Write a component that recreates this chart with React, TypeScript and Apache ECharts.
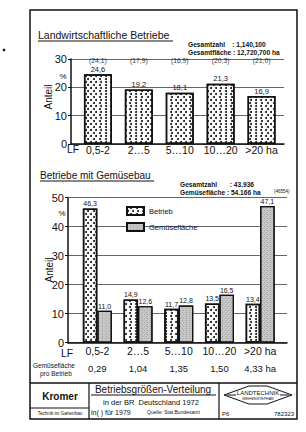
import React, { useEffect, useRef } from 'react';
import * as echarts from 'echarts';

// ---- data ----
const categories = ['0,5-2', '2…5', '5…10', '10…20', '>20 ha'];
const farmShare1972 = [24.6, 19.2, 18.1, 21.3, 16.9];
const farmShare1979 = [24.1, 17.9, 16.9, 20.3, 21.0];
const vegFarmShare = [46.3, 14.9, 11.7, 13.5, 13.4];
const vegAreaShare = [11.0, 12.6, 12.8, 16.5, 47.1];
const vegAreaPerFarm = ['0,29', '1,04', '1,35', '1,50', '4,33 ha'];
const legendNames = ['Betrieb', 'Gemüsefläche'];

const FONT = '"Liberation Sans", Arial, sans-serif';
const PAREN_LEVEL = 28.0; // vertical level (axis units) of the 1979 row
const fmt = (v: number) => v.toFixed(1).replace('.', ',');

const dotDecal = {
  symbol: 'circle',
  symbolSize: 1,
  color: '#111',
  dashArrayX: [[2, 3], [0, 2.5, 2, 0.5]],
  dashArrayY: [2, 1],
};
const greyDecal = {
  symbol: 'rect',
  symbolSize: 1,
  color: 'rgba(90,90,90,0.35)',
  dashArrayX: [[1, 1.5], [0, 1.25, 1, 0.25]],
  dashArrayY: [1, 1],
};

function txt(text: string, x: number, y: number, size: number, opts: any = {}) {
  return {
    type: 'text',
    x,
    y,
    rotation: opts.rotation || 0,
    silent: true,
    style: {
      text,
      fontSize: size,
      fontFamily: FONT,
      fontWeight: opts.weight || 'normal',
      fill: '#111',
      align: opts.align || 'left',
      verticalAlign: 'middle',
    },
  };
}
function ln(x1: number, y1: number, x2: number, y2: number, w = 1) {
  return { type: 'line', silent: true, shape: { x1, y1, x2, y2 }, style: { stroke: '#111', lineWidth: w } };
}

export default function App() {
  const ref = useRef<HTMLDivElement>(null);
  useEffect(() => {
    if (!ref.current) return;
    const chart = echarts.init(ref.current, null, { renderer: 'svg' });

    const valueAxisVisible = (gridIndex: number, max: number) => ({
      type: 'value',
      gridIndex,
      min: 0,
      max,
      interval: 10,
      axisLine: { show: true, lineStyle: { color: '#111', width: 1.5 } },
      axisTick: { show: true, length: 3, lineStyle: { color: '#111' } },
      axisLabel: { fontSize: 11, fontFamily: FONT, color: '#111', margin: 4 },
      splitLine: { show: true, lineStyle: { color: '#666', width: 1 } },
    });
    const valueAxisHidden = (gridIndex: number, max: number) => ({
      type: 'value',
      gridIndex,
      min: 0,
      max,
      interval: 10,
      show: false,
      splitLine: { show: false },
    });
    const baseAxis = (gridIndex: number) => ({
      type: 'category',
      gridIndex,
      data: categories,
      axisLine: { show: true, lineStyle: { color: '#111', width: 1.5 } },
      axisTick: { show: false },
      axisLabel: { show: false },
    });
    const labelAxis = (gridIndex: number, data: string[], margin: number, size: number, offset = 0) => ({
      type: 'category',
      gridIndex,
      data,
      position: 'bottom',
      offset,
      axisLine: { show: false },
      axisTick: { show: false },
      axisLabel: { fontSize: size, fontFamily: FONT, color: '#111', margin, interval: 0 },
    });

    const valueLabel = (size: number) => ({
      show: true,
      position: 'top',
      distance: 1,
      fontSize: size,
      lineHeight: size + 0.5,
      fontFamily: FONT,
      color: '#111',
      formatter: (p: any) => fmt(p.value),
    });

    const option: any = {
      animation: false,
      backgroundColor: '#fff',
      grid: [
        { left: 71, top: 59, width: 213, height: 85 },
        { left: 77.5, top: 59, width: 204.5, height: 85 },
        { left: 68, top: 197.7, width: 219, height: 145 },
        { left: 77, top: 197.7, width: 203.5, height: 145 },
      ],
      xAxis: [
        baseAxis(0),
        labelAxis(1, categories, 0, 10.5),
        baseAxis(2),
        labelAxis(3, categories, 3, 10.5),
        labelAxis(3, vegAreaPerFarm, 3, 9.5, 18),
      ],
      yAxis: [
        valueAxisVisible(0, 30),
        valueAxisHidden(1, 30),
        valueAxisVisible(2, 50),
        valueAxisHidden(3, 50),
      ],
      legend: {
        data: legendNames,
        orient: 'vertical',
        left: 121,
        top: 201,
        itemWidth: 17,
        itemHeight: 8,
        itemGap: 6,
        icon: 'rect',
        textStyle: { fontSize: 7.5, fontFamily: FONT, color: '#111' },
      },
      series: [
        {
          type: 'bar',
          name: 'Landwirtschaftliche Betriebe',
          xAxisIndex: 1,
          yAxisIndex: 1,
          data: farmShare1972,
          barWidth: 28,
          itemStyle: { color: '#fff', borderColor: '#111', borderWidth: 1.5, decal: dotDecal },
          label: valueLabel(7.5),
        },
        {
          type: 'scatter',
          name: '1979',
          xAxisIndex: 1,
          yAxisIndex: 1,
          symbolSize: 1,
          itemStyle: { color: 'rgba(0,0,0,0)' },
          data: farmShare1979.map((v, i) => [categories[i], PAREN_LEVEL, v]),
          label: {
            show: true,
            position: 'top',
            distance: 0,
            fontSize: 6.8,
            lineHeight: 7,
            fontFamily: FONT,
            color: '#000',
            formatter: (p: any) => '(' + fmt(p.value[2]) + ')',
          },
        },
        {
          type: 'bar',
          name: legendNames[0],
          xAxisIndex: 3,
          yAxisIndex: 3,
          data: vegFarmShare,
          barWidth: 14.5,
          barGap: '0%',
          itemStyle: { color: '#fff', borderColor: '#111', borderWidth: 1.5, decal: dotDecal },
          label: valueLabel(7),
        },
        {
          type: 'bar',
          name: legendNames[1],
          xAxisIndex: 3,
          yAxisIndex: 3,
          data: vegAreaShare,
          barWidth: 14.5,
          barGap: '0%',
          itemStyle: { color: '#c6c6c6', borderColor: '#111', borderWidth: 1.2, decal: greyDecal },
          label: valueLabel(7),
        },
      ],
      graphic: [
        // frame
        { type: 'rect', silent: true, shape: { x: 30, y: 10, width: 267, height: 409 }, style: { fill: 'none', stroke: '#111', lineWidth: 1.5 } },
        ln(30, 383, 297, 383, 1.5),
        ln(89, 383, 89, 419, 1.2),
        ln(219, 383, 219, 419, 1.2),
        ln(30, 408, 89, 408, 1),
        { type: 'circle', silent: true, shape: { cx: 4, cy: 50, r: 1.3 }, style: { fill: '#111' } },
        // top chart titles
        txt('Landwirtschaftliche Betriebe', 38, 35, 10.5),
        ln(38, 41, 173, 41, 1),
        txt('Gesamtzahl    : 1,140,100', 188, 44, 6.6, { weight: 'bold' }),
        txt('Gesamtfläche : 12,720,700 ha', 188, 52, 6.6, { weight: 'bold' }),
        txt('%', 63, 76, 8, { align: 'center' }),
        txt('Anteil', 48, 97, 10, { align: 'center', rotation: Math.PI / 2 }),
        txt('LF', 67, 149, 10.5),
        // bottom chart titles
        txt('Betriebe mit Gemüsebau', 40, 175, 10),
        ln(40, 181, 154, 181, 1),
        txt('Gesamtzahl       : 43.936', 180, 184, 6.6, { weight: 'bold' }),
        txt('Gemüsefläche : 54.166 ha', 180, 192, 6.6, { weight: 'bold' }),
        txt('(46554)', 274, 191, 4.5),
        txt('%', 62, 213, 8, { align: 'center' }),
        txt('Anteil', 49, 270, 10, { align: 'center', rotation: Math.PI / 2 }),
        txt('LF', 61, 353, 10.5),
        txt('Gemüsefläche', 33, 365, 6.5),
        txt('pro Betrieb', 40, 373, 6.5),
        // footer
        txt('Kromer', 60, 396, 10, { align: 'center', weight: 'bold' }),
        txt('Technik im Gartenbau', 60, 413, 4.6, { align: 'center' }),
        txt('Betriebsgrößen-Verteilung', 153, 389, 10, { align: 'center' }),
        ln(91, 395, 216, 395, 1),
        txt('in der BR  Deutschland 1972', 151, 402, 7.5, { align: 'center' }),
        txt('in( ) für 1979', 91, 412, 7),
        txt('Quelle: Stat.Bundesamt', 147, 412, 5),
        txt('P6', 222, 414, 6),
        txt('782323', 294, 414, 6, { align: 'right' }),
        // logo
        { type: 'polygon', silent: true, shape: { points: [[224, 395], [249, 386], [267, 386], [292, 395], [267, 404], [249, 404]] }, style: { fill: 'none', stroke: '#111', lineWidth: 1 } },
        ln(227, 395, 236, 395, 1),
        ln(280, 395, 289, 395, 1),
        txt('LANDTECHNIK', 258, 393, 6, { align: 'center' }),
        txt('WEIHENSTEPHAN', 258, 399, 3.6, { align: 'center' }),
      ],
    };
    chart.setOption(option);
    return () => chart.dispose();
  }, []);

  return (
    <div
      ref={ref}
      style={{ position: 'fixed', left: 0, top: 0, width: 306, height: 432, background: '#fff' }}
    />
  );
}
